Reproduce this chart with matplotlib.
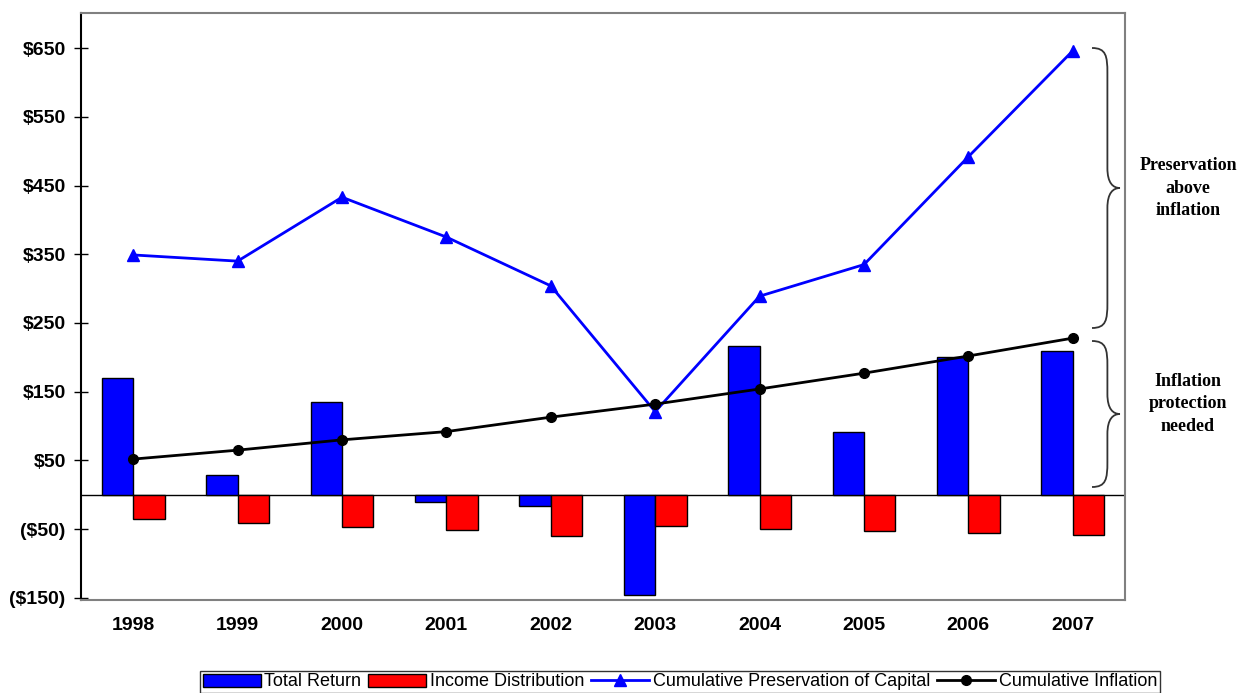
import numpy as np
import matplotlib.pyplot as plt
from matplotlib.path import Path
from matplotlib.patches import PathPatch

years = ["1998", "1999", "2000", "2001", "2002", "2003", "2004", "2005", "2006", "2007"]
total_return = [170, 29, 135, -10, -16, -145, 217, 92, 200, 209]
income_dist = [-35, -41, -47, -51, -60, -45, -49, -52, -55, -58]
cum_preservation = [349, 340, 433, 375, 304, 121, 289, 335, 492, 646]
cum_inflation = [52, 65, 80, 92, 113, 132, 154, 177, 202, 228]
yticks = [-150, -50, 50, 150, 250, 350, 450, 550, 650]
ytick_labels = ["($150)", "($50)", "$50", "$150", "$250", "$350", "$450", "$550", "$650"]

plt.rcParams['font.family'] = ['Liberation Sans', 'DejaVu Sans']

W, H = 1242, 693
fig = plt.figure(figsize=(W / 100, H / 100), dpi=100)
ax = fig.add_axes([81 / W, 1 - 600 / H, 1044 / W, 587 / H])

x = np.arange(len(years))
bw = 0.3
b1 = ax.bar(x - bw / 2, total_return, bw, color="#0000ff", edgecolor="black", linewidth=1,
            label="Total Return", zorder=2)
b2 = ax.bar(x + bw / 2, income_dist, bw, color="#ff0000", edgecolor="black", linewidth=1,
            label="Income Distribution", zorder=2)
l1, = ax.plot(x, cum_preservation, color="#0000ff", marker="^", markersize=9, linewidth=2,
              label="Cumulative Preservation of Capital", zorder=3)
l2, = ax.plot(x, cum_inflation, color="black", marker="o", markersize=7, linewidth=2,
              label="Cumulative Inflation", zorder=3)
ax.axhline(0, color="black", linewidth=1, zorder=1)

ax.set_xlim(-0.5, 9.5)
ax.set_ylim(-153, 701)
ax.set_xticks(x)
ax.set_xticklabels(years, fontsize=14, fontweight="bold")
ax.set_yticks(yticks)
ax.set_yticklabels(ytick_labels, fontsize=14, fontweight="bold")
ax.tick_params(axis="x", length=0, pad=12)
ax.tick_params(axis="y", direction="inout", length=10, width=1, pad=6)
for s in ["top", "right", "bottom"]:
    ax.spines[s].set_color("#808080")
    ax.spines[s].set_linewidth(1.5)
ax.spines["left"].set_linewidth(1.5)

leg = ax.legend([b1, b2, l1, l2], [h.get_label() for h in (b1, b2, l1, l2)],
                loc="center", bbox_to_anchor=(680 / W, 1 - 682 / H),
                bbox_transform=fig.transFigure, ncol=4, fontsize=13, frameon=True,
                fancybox=False, edgecolor="black", handlelength=3.2, handletextpad=0.2,
                columnspacing=0.4, borderpad=0.15, borderaxespad=0)
leg.get_frame().set_linewidth(1)


def brace(x0, y_top, y_bot, w=28):
    # curly brace in pixel coords, opening left, tip pointing right
    ym = (y_top + y_bot) / 2
    xm = x0 + w * 0.55
    verts = [(x0, y_top), (x0 + w * 0.5, y_top), (xm, y_top + 8), (xm, y_top + 25),
             (xm, ym - 20),
             (xm, ym - 5), (x0 + w * 0.75, ym), (x0 + w, ym),
             (x0 + w * 0.75, ym), (xm, ym + 5), (xm, ym + 20),
             (xm, y_bot - 25),
             (xm, y_bot - 8), (x0 + w * 0.5, y_bot), (x0, y_bot)]
    codes = [Path.MOVETO, Path.CURVE4, Path.CURVE4, Path.CURVE4, Path.LINETO,
             Path.CURVE4, Path.CURVE4, Path.CURVE4,
             Path.CURVE4, Path.CURVE4, Path.CURVE4,
             Path.LINETO,
             Path.CURVE4, Path.CURVE4, Path.CURVE4]
    verts = [(vx / W, 1 - vy / H) for vx, vy in verts]
    fig.patches.append(PathPatch(Path(verts, codes), transform=fig.transFigure,
                                 fill=False, edgecolor="#333333", linewidth=1.3))


brace(1092, 48, 328)
brace(1092, 341, 487)
fig.text(1188 / W, 1 - 188 / H, "Preservation\nabove\ninflation", ha="center", va="center",
         fontsize=13, fontweight="bold", family="Liberation Serif", linespacing=1.4)
fig.text(1188 / W, 1 - 404 / H, "Inflation\nprotection\nneeded", ha="center", va="center",
         fontsize=13, fontweight="bold", family="Liberation Serif", linespacing=1.4)

fig.savefig("out.png", dpi=100)
